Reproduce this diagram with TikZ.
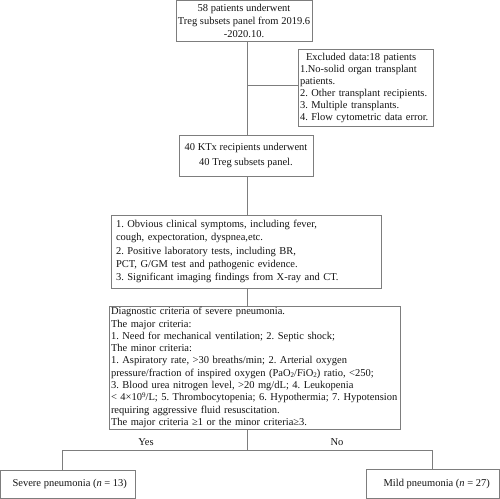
\documentclass[tikz,border=0pt]{standalone}
\usepackage{fontspec}
\setmainfont{Liberation Serif}
\frenchspacing
\hyphenpenalty=10000
\exhyphenpenalty=10000
\definecolor{linegray}{RGB}{125,125,125}
\definecolor{txt}{RGB}{20,20,20}
\newcommand{\sbs}[1]{\raisebox{-0.35ex}{\fontsize{7}{7}\selectfont #1}}
\newcommand{\sps}[1]{\raisebox{0.7ex}{\fontsize{7}{7}\selectfont #1}}
\begin{document}
\begin{tikzpicture}[x=1pt,y=-1pt,
  box/.style={draw=linegray, line width=1pt, inner sep=0pt, outer sep=0pt,
    text=txt, font=\fontsize{10.5}{12.8}\selectfont},
  conn/.style={draw=linegray, line width=1pt},
  lbl/.style={text=txt, font=\fontsize{10.5}{12.8}\selectfont, inner sep=0pt}]
\useasboundingbox (0,0) rectangle (500,498);
\fill[white] (0,0) rectangle (500,498);

\node[box, minimum width=136pt, minimum height=40.5pt, align=center,
  font=\fontsize{10.5}{13}\selectfont] (b1) at (244,20.8)
  {58 patients underwent\\Treg subsets panel from 2019.6\\-2020.10.};

\node[box, minimum width=135pt, minimum height=77pt, text width=131pt, align=left,
  font=\fontsize{10.5}{12}\selectfont] (excl) at (365.5,87.5)
  {\hspace*{6pt}Excluded data:18 patients\\1.No-solid organ transplant\\patients.\\2. Other transplant recipients.\\3. Multiple transplants.\\4. Flow cytometric data error.};

\node[box, minimum width=134pt, minimum height=41pt, align=center,
  font=\fontsize{10.5}{14.5}\selectfont] (b3) at (246,155.5)
  {40 KTx recipients underwent\\40 Treg subsets panel.};

\node[box, minimum width=270pt, minimum height=73pt, text width=260pt, align=left,
  font=\fontsize{10.5}{13.3}\selectfont] (b4) at (246,251.5)
  {1. Obvious clinical symptoms, including fever,\\cough, expectoration, dyspnea,etc.\\2. Positive laboratory tests, including BR,\\PCT, G/GM test and pathogenic evidence.\\3. Significant imaging findings from X-ray and CT.};

\node[box, minimum width=291pt, minimum height=123pt, text width=287pt, align=left,
  font=\fontsize{10.5}{12.3}\selectfont] (b5) at (254.5,367.5)
  {Diagnostic criteria of severe pneumonia.\\The major criteria:\\1. Need for mechanical ventilation; 2. Septic shock;\\The minor criteria:\\1. Aspiratory rate, >30 breaths/min; 2. Arterial oxygen\\pressure/fraction of inspired oxygen (PaO\sbs{2}/FiO\sbs{2}) ratio, <250;\\3. Blood urea nitrogen level, >20 mg/dL; 4. Leukopenia\\< 4×10\sps{9}/L; 5. Thrombocytopenia; 6. Hypothermia; 7. Hypotension\\requiring aggressive fluid resuscitation.\\The major criteria ≥1 or the minor criteria≥3.};

\node[box, minimum width=134.5pt, minimum height=28pt] (sev) at (67.75,484)
  {\hspace*{4pt}Severe pneumonia (\textit{n} = 13)};
\node[box, minimum width=133.5pt, minimum height=29pt] (mild) at (432.75,483.5)
  {\hspace*{8pt}Mild pneumonia (\textit{n} = 27)};

\coordinate (j1) at (247,85);
\coordinate (j2) at (247,450);

\draw[conn] (b1.south -| j1) -- (b3.north -| j1);
\draw[conn] (j1) -- (excl.west |- j1);
\draw[conn] (b3.south -| j1) -- (b4.north -| j1);
\draw[conn] (b4.south -| j1) -- (b5.north -| j1);
\draw[conn] (b5.south -| j1) -- (j2);
\coordinate (jl) at (62,450);
\coordinate (jr) at (432,450);
\draw[conn] (jl) -- (jr);
\draw[conn] (jl) -- (sev.north -| jl);
\draw[conn] (jr) -- (mild.north -| jr);

\node[lbl] (yes) at (146,442) {Yes};
\node[lbl] (no) at (337,442) {No};
\end{tikzpicture}
\end{document}
